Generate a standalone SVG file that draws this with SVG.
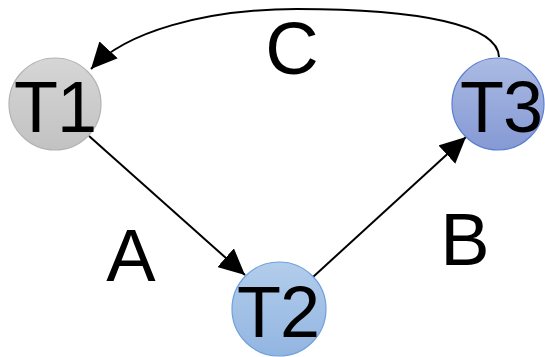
<svg xmlns="http://www.w3.org/2000/svg" width="545" height="357" viewBox="0 0 545 357">
  <defs>
    <linearGradient id="gGray" x1="0" y1="0" x2="0" y2="1">
      <stop offset="0" stop-color="#d6d6d6"/>
      <stop offset="1" stop-color="#c2c2c2"/>
    </linearGradient>
    <linearGradient id="gBlue" x1="0" y1="0" x2="0" y2="1">
      <stop offset="0" stop-color="#b3cdeb"/>
      <stop offset="1" stop-color="#92b5e1"/>
    </linearGradient>
    <linearGradient id="gIndigo" x1="0" y1="0" x2="0" y2="1">
      <stop offset="0" stop-color="#abbbe3"/>
      <stop offset="1" stop-color="#8599d4"/>
    </linearGradient>
    <marker id="arrow" viewBox="0 0 26 25" refX="26" refY="12.5" markerWidth="26" markerHeight="25" markerUnits="userSpaceOnUse" orient="auto">
      <path d="M0,0 L26,12.5 L0,25 z" fill="#000"/>
    </marker>
  </defs>
  <style>
    .lbl { font-family: "Liberation Sans", Arial, sans-serif; font-size: 74px; fill: #000; text-anchor: middle; }
    .node { font-family: "Liberation Sans", Arial, sans-serif; font-size: 72px; fill: #000; text-anchor: middle; letter-spacing: -1px; }
    .edge { fill: none; stroke: #000; stroke-width: 2; marker-end: url(#arrow); }
  </style>

  <g id="connectors">
    <path id="edge-A" class="edge" d="M89,136 L245,275"/>
    <path id="edge-B" class="edge" d="M313,277 L466,137"/>
    <path id="edge-C" class="edge" d="M499,57 C498,25 420,9 297,9 C205,9 125,32 91,69"/>
  </g>

  <g id="labels">
    <text class="lbl" x="131" y="281">A</text>
    <text class="lbl" x="465" y="265">B</text>
    <text class="lbl" x="292" y="74">C</text>
  </g>

  <g id="T1">
    <circle cx="55" cy="104" r="46" fill="url(#gGray)" stroke="#b3b3b3" stroke-width="1.2"/>
    <text class="node" x="55" y="132">T1</text>
  </g>
  <g id="T2">
    <circle cx="279" cy="309" r="47" fill="url(#gBlue)" stroke="#6ea0dc" stroke-width="1.2"/>
    <text class="node" x="278" y="337">T2</text>
  </g>
  <g id="T3">
    <circle cx="498" cy="104" r="46" fill="url(#gIndigo)" stroke="#5a7ed0" stroke-width="1.2"/>
    <text class="node" x="501" y="132">T3</text>
  </g>
</svg>
